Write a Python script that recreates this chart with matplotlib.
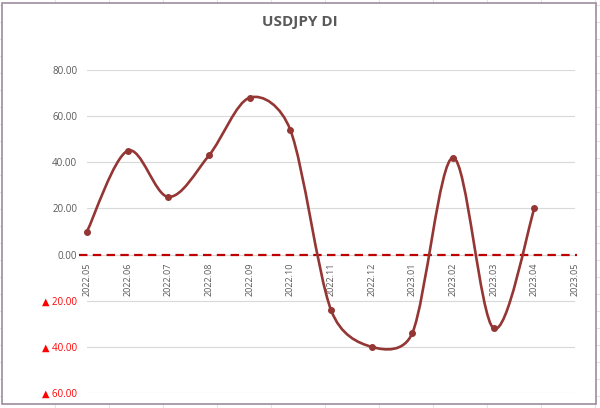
import matplotlib
matplotlib.use("Agg")
import matplotlib.pyplot as plt
import numpy as np
from matplotlib.path import Path
from matplotlib.patches import PathPatch, Rectangle
from matplotlib.lines import Line2D
import matplotlib.transforms as mtrans

plt.rcParams['font.family'] = ['Open Sans', 'DejaVu Sans']

categories = ["2022.05", "2022.06", "2022.07", "2022.08", "2022.09", "2022.10",
              "2022.11", "2022.12", "2023.01", "2023.02", "2023.03", "2023.04", "2023.05"]
values = [10, 45, 25, 43, 68, 54, -24, -40, -34, 42, -32, 20]
y_ticks = [-60, -40, -20, 0, 20, 40, 60, 80]

W, H = 600, 408
fig = plt.figure(figsize=(W / 100, H / 100), dpi=100)
fig.patch.set_facecolor("white")

# faint spreadsheet grid behind the chart
for xg in np.arange(55, W, 54):
    fig.add_artist(Line2D([xg / W, xg / W], [0, 1], color="#e4e4e4", lw=0.8, zorder=-3))
for yg in np.arange(5, H, 17):
    fig.add_artist(Line2D([0, 1], [1 - yg / H, 1 - yg / H], color="#e4e4e4", lw=0.8, zorder=-3))
fig.add_artist(Rectangle((2 / W, 1 - 404 / H), 594 / W, 401 / H, transform=fig.transFigure,
                         facecolor="white", edgecolor="#9d8c9d", lw=1.2, zorder=-2))

left, right = 87 / W, 575 / W
bottom, top = 1 - 393 / H, 1 - 70 / H
ax = fig.add_axes([left, bottom, right - left, top - bottom])
ax.set_facecolor("none")
ax.set_xlim(0, len(categories) - 1)
ax.set_ylim(-60, 80)
for s in ax.spines.values():
    s.set_visible(False)

ax.set_yticks(y_ticks)
ax.yaxis.grid(True, color="#d9d9d9", lw=0.8)
ax.set_axisbelow(True)
labels = []
for v in y_ticks:
    labels.append(f"▲ {abs(v):.2f}" if v < 0 else f"{v:.2f}")
ax.set_yticklabels(labels, fontsize=7)
for lab, v in zip(ax.get_yticklabels(), y_ticks):
    lab.set_color("#ff0000" if v < 0 else "#595959")
ax.tick_params(axis="y", length=0, pad=7)
ax.set_xticks([])

# category labels at the zero line
offs = mtrans.offset_copy(ax.transData, fig=fig, x=0, y=-5.5, units="points")
for i, c in enumerate(categories):
    ax.text(i, 0, c, rotation=90, ha="center", va="top", fontsize=6.5,
            color="#595959", transform=offs)

# zero line
ax.plot([-0.2, len(categories) - 1 + 0.05], [0, 0], color="#c00000", lw=1.6,
        dashes=(3.8, 2.4), clip_on=False, zorder=3)

# smoothed line (Excel-like Bezier smoothing, computed in screen space)
x = np.arange(len(values), dtype=float)
y = np.array(values, dtype=float)
pts = ax.transData.transform(np.column_stack([x, y]))
n = len(pts)
verts = [tuple(pts[0])]
codes = [Path.MOVETO]
for i in range(n - 1):
    p0 = pts[max(i - 1, 0)]
    p1 = pts[i]
    p2 = pts[i + 1]
    p3 = pts[min(i + 2, n - 1)]
    d12 = np.linalg.norm(p2 - p1)
    d02 = np.linalg.norm(p2 - p0)
    d13 = np.linalg.norm(p3 - p1)
    f1 = 1 / 6 if d02 / 6 < d12 / 2 else d12 / d02 / 2
    f2 = 1 / 6 if d13 / 6 < d12 / 2 else d12 / d13 / 2
    c1 = p1 + (p2 - p0) * f1
    c2 = p2 - (p3 - p1) * f2
    verts += [tuple(c1), tuple(c2), tuple(p2)]
    codes += [Path.CURVE4] * 3
verts_data = ax.transData.inverted().transform(np.array(verts))
ax.add_patch(PathPatch(Path(verts_data, codes), facecolor="none", edgecolor="#943634",
                       lw=1.9, zorder=4, clip_on=False))
ax.plot(x, y, "o", color="#943634", ms=4, zorder=5, clip_on=False)

fig.text(0.5, 1 - 22 / H, "USDJPY DI", ha="center", va="center", fontsize=11,
         fontweight="bold", color="#595959")

fig.savefig("out.png", dpi=100)
